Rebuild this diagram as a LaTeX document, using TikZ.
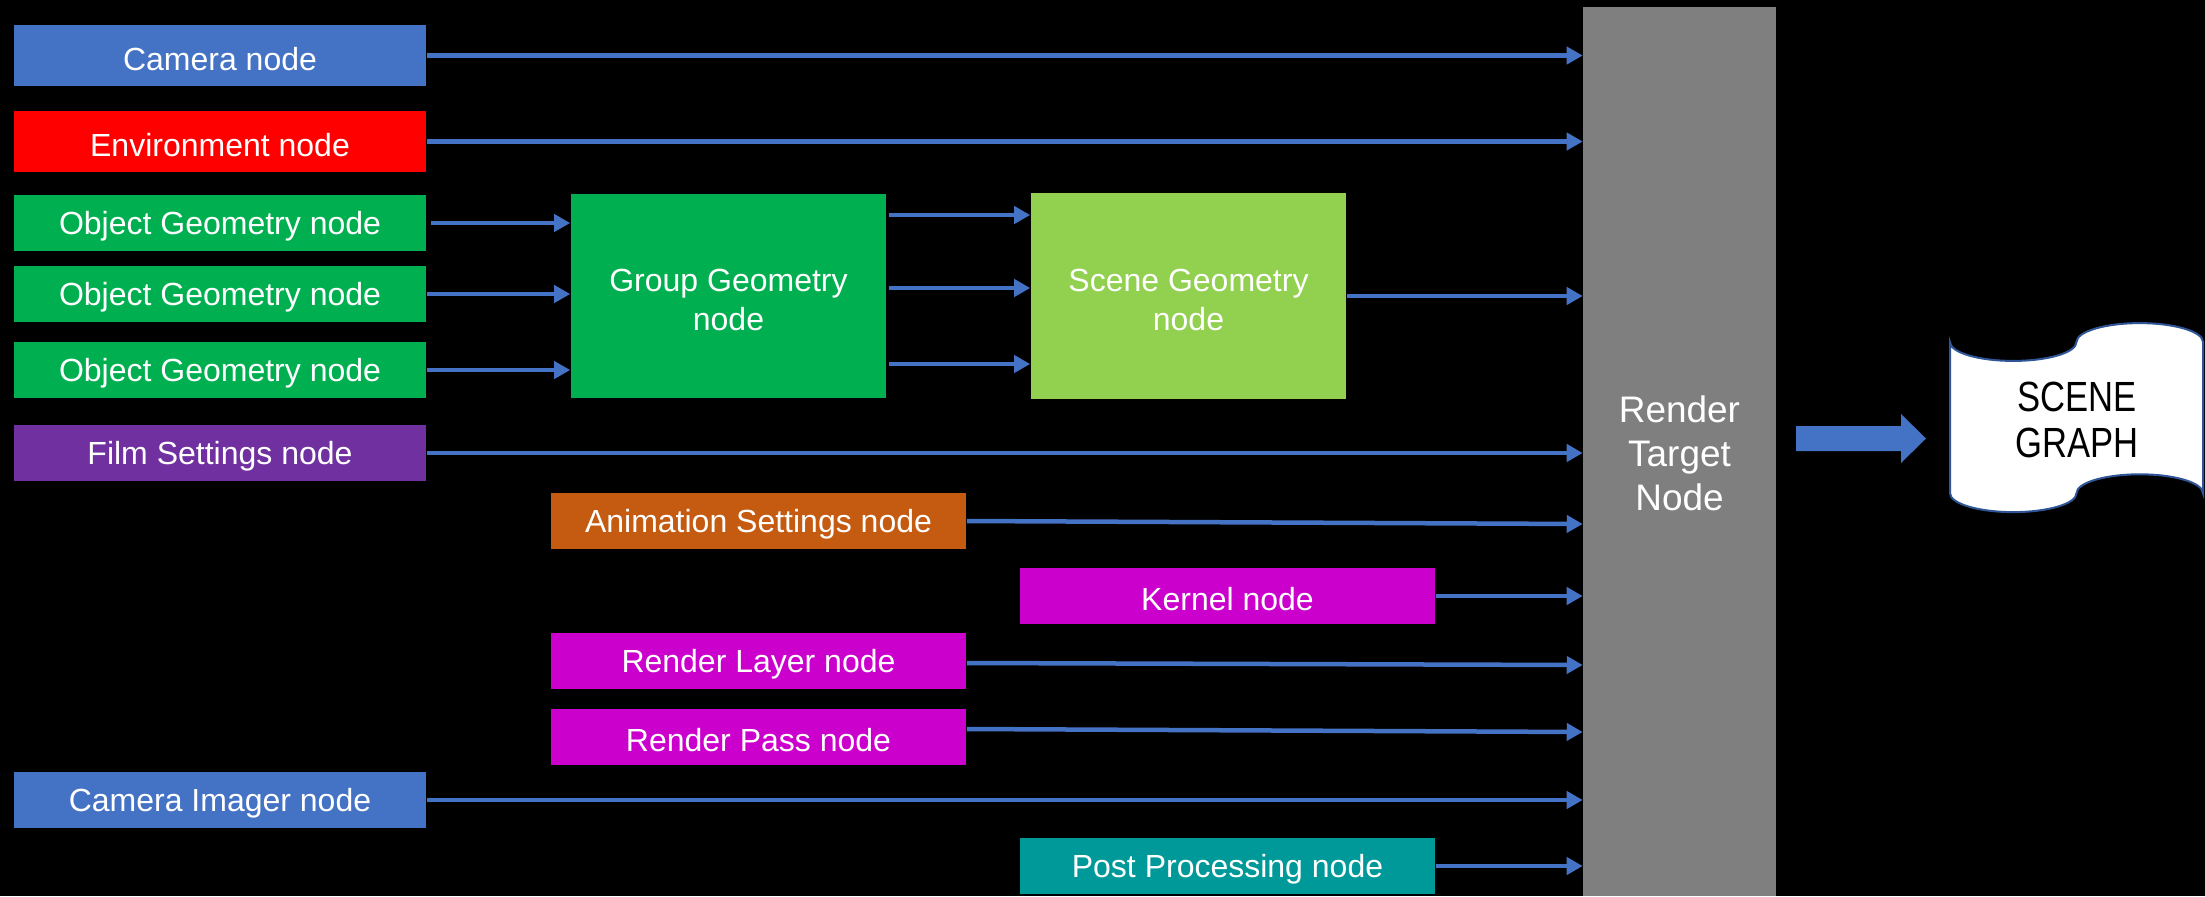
\documentclass[tikz,border=0pt]{standalone}
\usepackage{fontspec}
\setmainfont{Liberation Sans}
\newfontfamily\narrowfont[FakeStretch=0.82]{Liberation Sans}
\usetikzlibrary{arrows.meta,calc}

\definecolor{camblue}{HTML}{4472C4}
\definecolor{envred}{HTML}{FF0000}
\definecolor{geomgreen}{HTML}{00B050}
\definecolor{scenegreen}{HTML}{92D050}
\definecolor{filmpurple}{HTML}{7030A0}
\definecolor{animorange}{HTML}{C55A11}
\definecolor{kernelmag}{HTML}{CC00CC}
\definecolor{postteal}{HTML}{009999}
\definecolor{rtgray}{HTML}{7F7F7F}
\definecolor{tapeline}{HTML}{2F5597}

\newcommand{\topstrut}{\rule{0pt}{8.5pt}}

\begin{document}
\begin{tikzpicture}[x=0.01cm, y=-0.01cm,
    >={Triangle[length=0.16cm,width=0.17cm]},
    box/.style={inner sep=0pt, text=white, align=center,
        font=\fontsize{9.1}{11}\selectfont, minimum height=0.56cm},
    leftbox/.style={box, minimum width=4.12cm},
    midbox/.style={box, minimum width=4.15cm},
    link/.style={->, camblue, line width=0.045cm}]
    % 1. background
    \fill[black] (0,0) rectangle (2205,896);
    \useasboundingbox (0,0) rectangle (2205,896);

    % 2. input nodes on the left
    \node[leftbox, fill=camblue, minimum height=0.61cm] (cam) at (220,55.5) {\topstrut Camera node};
    \node[leftbox, fill=envred, minimum height=0.61cm] (env) at (220,141.5) {\topstrut Environment node};
    \node[leftbox, fill=geomgreen] (obj1) at (220,223) {\topstrut Object Geometry node};
    \node[leftbox, fill=geomgreen] (obj2) at (220,294) {\topstrut Object Geometry node};
    \node[leftbox, fill=geomgreen] (obj3) at (220,370) {\topstrut Object Geometry node};
    \node[leftbox, fill=filmpurple] (film) at (220,453) {\topstrut Film Settings node};
    \node[leftbox, fill=camblue] (imager) at (220,800) {\topstrut Camera Imager node};

    % 3. geometry grouping
    \node[box, fill=geomgreen, minimum width=3.15cm, minimum height=2.04cm] (group) at (728.5,296) {\topstrut Group Geometry\\node};
    \node[box, fill=scenegreen, minimum width=3.15cm, minimum height=2.06cm] (scene) at (1188.5,296) {\topstrut Scene Geometry\\node};

    % 4. settings nodes in the middle
    \node[midbox, fill=animorange] (anim) at (758.5,521) {\topstrut Animation Settings node};
    \node[midbox, fill=kernelmag] (kernel) at (1227.5,596) {\topstrut Kernel node};
    \node[midbox, fill=kernelmag] (layer) at (758.5,661) {\topstrut Render Layer node};
    \node[midbox, fill=kernelmag] (pass) at (758.5,737) {\topstrut Render Pass node};
    \node[midbox, fill=postteal] (post) at (1227.5,866) {\topstrut Post Processing node};

    % 5. render target
    \node[box, fill=rtgray, minimum width=1.92cm, minimum height=8.89cm,
        font=\fontsize{10.5}{12.5}\selectfont] (rt) at (1679.5,451.5) {\rule{0pt}{8.7pt}Render\\Target\\Node};

    % 6. connectors
    \draw[link] ($(obj1.east)+(4,0)$) -- (obj1.east -| group.west);
    \draw[link] (obj2.east) -- (obj2.east -| group.west);
    \draw[link] (obj3.east) -- (obj3.east -| group.west);
    \foreach \dy in {-81,-8,68}
        \draw[link] ($(group.east)+(2,\dy)$) -- ($(scene.west)+(0,\dy)$);
    \foreach \n in {cam,env,film,kernel,imager,post,scene}
        \draw[link] (\n.east) -- (\n.east -| rt.west);
    \draw[link] (anim.east) -- ($(anim.east -| rt.west)+(0,3)$);
    \draw[link] ($(layer.east)+(0,2)$) -- ($(layer.east -| rt.west)+(0,4)$);
    \draw[link] ($(pass.east)+(0,-8)$) -- ($(pass.east -| rt.west)+(0,-5)$);

    % 7. block arrow and scene graph tape
    \fill[camblue] (1796,426) -- (1901,426) -- (1901,414) -- (1926,438.5)
        -- (1901,463) -- (1901,451) -- (1796,451) -- cycle;
    \draw[tapeline, fill=white, line width=0.02cm] (1950,342)
        .. controls (1950,352.4) and (1978.3,360.9) .. (2013.25,360.9)
        .. controls (2048.2,360.9) and (2076.5,352.4) .. (2076.5,342)
        .. controls (2076.5,331.6) and (2104.8,323.1) .. (2139.75,323.1)
        .. controls (2174.7,323.1) and (2203,331.6) .. (2203,342)
        -- (2203,493.2)
        .. controls (2203,482.8) and (2174.7,474.3) .. (2139.75,474.3)
        .. controls (2104.8,474.3) and (2076.5,482.8) .. (2076.5,493.2)
        .. controls (2076.5,503.6) and (2048.2,512.1) .. (2013.25,512.1)
        .. controls (1978.3,512.1) and (1950,503.6) .. (1950,493.2)
        -- cycle;
    \node[align=center, inner sep=0pt, font=\narrowfont\fontsize{12}{13}\selectfont] (sg) at (2077,420) {SCENE\\GRAPH};
\end{tikzpicture}
\end{document}
